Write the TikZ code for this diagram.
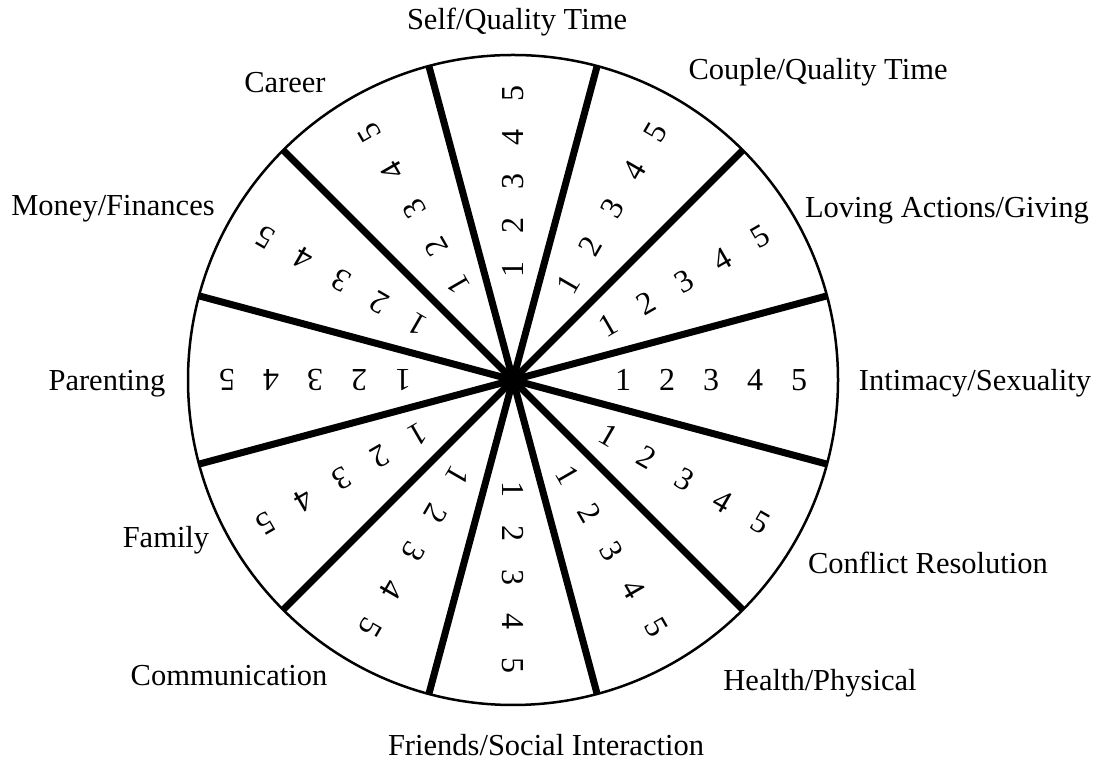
\documentclass[tikz,border=0pt]{standalone}
\usepackage{fontspec}
\setmainfont{Liberation Serif}
\newfontfamily\digitfont{Liberation Serif}
\begin{document}
\begin{tikzpicture}[x=1pt,y=1pt,
  spoke/.style={line width=7pt},
  rim/.style={line width=2.5pt},
  lab/.style={font=\fontsize{30.5}{33}\selectfont, inner sep=0pt},
  num/.style={font=\digitfont\fontsize{32}{34}\selectfont, inner sep=0pt}]
\useasboundingbox[fill=white] (0,0) rectangle (1105,762);
\coordinate (c) at (513,382);
\node[circle, draw, rim, minimum size=650pt, inner sep=0pt, outer sep=0pt] (wheel) at (c) {};
\foreach \a [evaluate=\a as \b using int(\a+180)] in {15,45,...,165}
  \draw[spoke] (wheel.\a) -- (wheel.\b);
\foreach \a in {0,30,...,330}
  \foreach \k in {1,...,5}
    \node[num, rotate=\a] (n\a-\k) at ([shift={(\a:{66+44*\k})}]c) {\k};
\node[lab] (l90) at (517,740) {Self/Quality Time};
\node[lab] (l60) at (818,690) {Couple/Quality Time};
\node[lab] (l30) at (947,551) {Loving Actions/Giving};
\node[lab] (l0) at (975,379) {Intimacy/Sexuality};
\node[lab] (l330) at (928,199) {Conflict Resolution};
\node[lab] (l300) at (820,79) {Health/Physical};
\node[lab] (l270) at (546,17) {Friends/Social Interaction};
\node[lab] (l240) at (229,86) {Communication};
\node[lab] (l210) at (166,222) {Family};
\node[lab] (l180) at (107,378) {Parenting};
\node[lab] (l150) at (113,553) {Money/Finances};
\node[lab] (l120) at (285,679) {Career};
\end{tikzpicture}
\end{document}
